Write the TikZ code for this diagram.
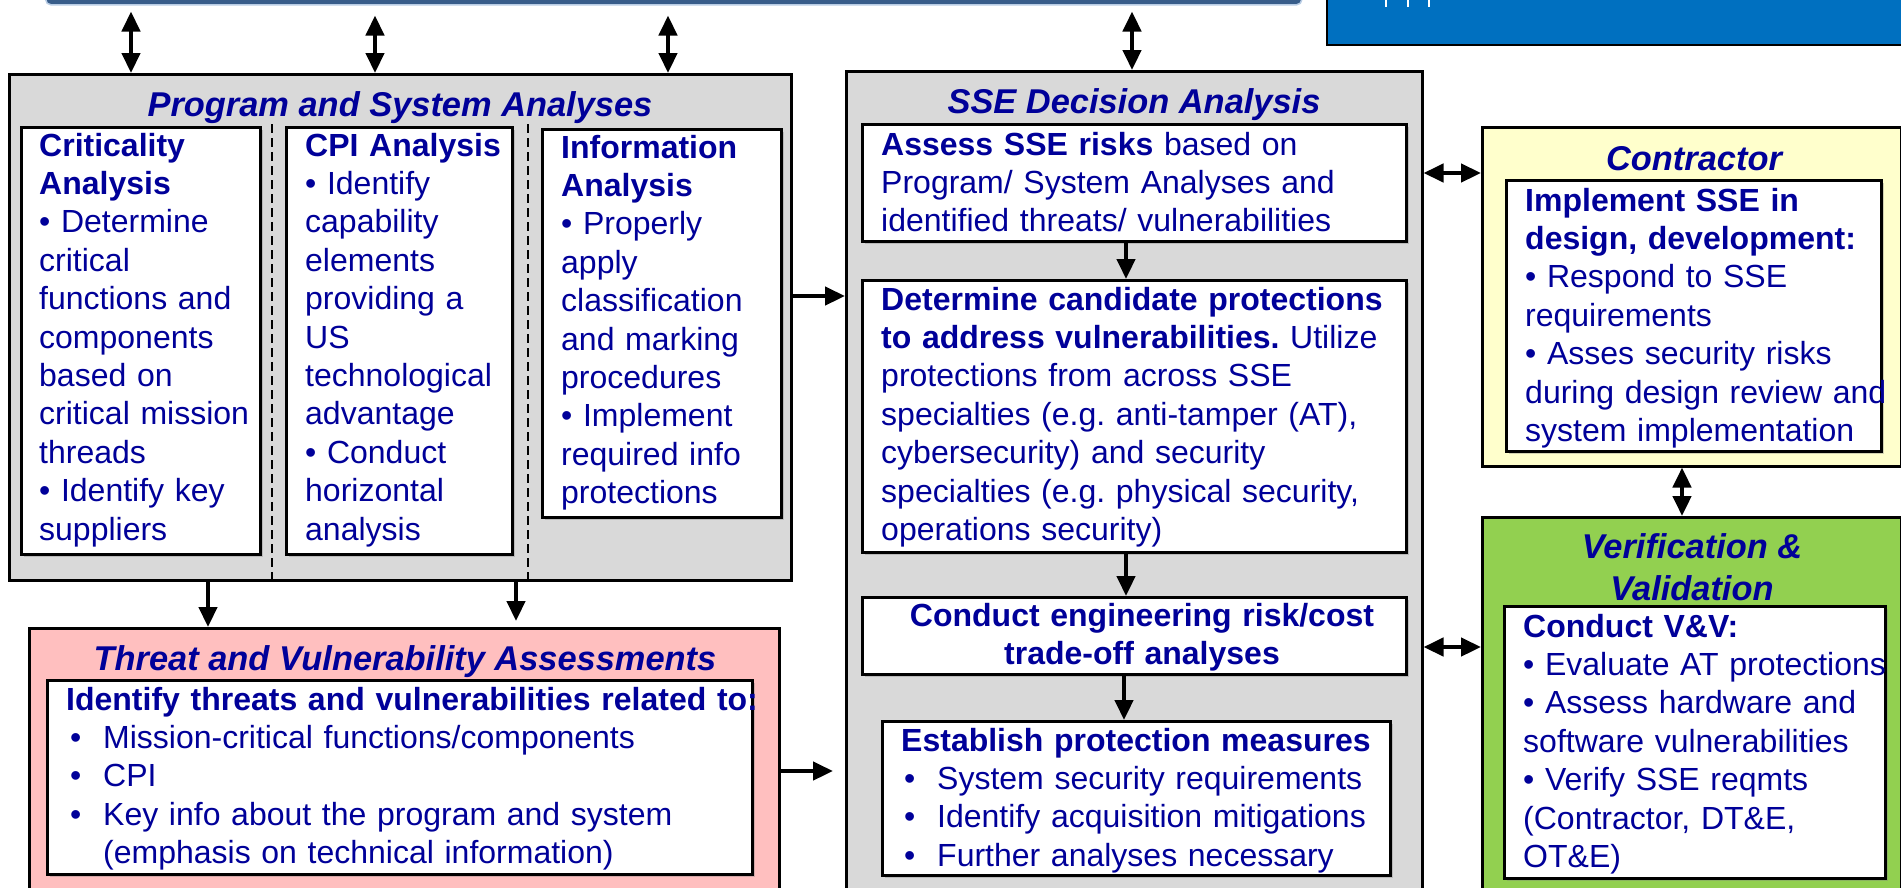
\documentclass[tikz,border=0pt]{standalone}
\usepackage{fontspec}
\setmainfont{Liberation Sans}
\usetikzlibrary{arrows.meta,shadows}

\definecolor{navy}{RGB}{0,0,153}
\definecolor{panelgray}{RGB}{217,217,217}
\definecolor{threatpink}{RGB}{255,191,191}
\definecolor{contryellow}{RGB}{255,255,204}
\definecolor{vvgreen}{RGB}{146,208,80}
\definecolor{barblue}{RGB}{56,93,138}
\definecolor{baredge}{RGB}{185,205,229}
\definecolor{capblue}{RGB}{0,112,192}
\newcommand{\bodyfont}{\fontsize{32}{38.4}\selectfont}
\newcommand{\headfont}{\fontsize{34.4}{42}\selectfont\bfseries\itshape}
\newcommand{\bul}{\makebox[33pt][l]{•}}
\frenchspacing

\begin{document}
\begin{tikzpicture}[x=1pt,y=-1pt,>={Triangle[length=20pt,width=18pt]},
	panel/.style={draw=black,line width=2.5pt,anchor=north west,inner sep=0pt},
	card/.style={panel,fill=white,drop shadow={shadow xshift=3pt,shadow yshift=-3pt,opacity=0.35}},
	boxtext/.style={anchor=north west,inner sep=0pt,align=left,text width=#1,font=\bodyfont,text=navy},
	boxtitle/.style={anchor=base,inner sep=0pt,font=\headfont,text=navy},
	flow/.style={->,line width=4.5pt},
	twoway/.style={<->,line width=4.5pt},
	divider/.style={dash pattern=on 9pt off 5pt,line width=2pt}]

		\useasboundingbox (0,0) rectangle (1901,887);
		\clip (0,0) rectangle (1901,887);

		\node[panel,fill=barblue,draw=baredge,line width=1.5pt,rounded corners=5pt,minimum width=1256pt,minimum height=40pt] (bar) at (45,-36) {};
		\node[panel,fill=capblue,line width=2pt,minimum width=580pt,minimum height=80pt] (cap) at (1326,-36) {};
		\foreach \x in {1386,1408,1429}
			\draw[white,line width=2.5pt] (\x,0) -- (\x,7);

		\node[panel,fill=panelgray,minimum width=782pt,minimum height=506pt] (prog) at (8,73) {};
		\node[boxtitle] (progtitle) at (400,116) {Program and System Analyses};
		\coordinate (s1) at (272,124);
		\coordinate (s2) at (528,124);
		\draw[divider] (s1) -- (prog.south -| s1);
		\draw[divider] (s2) -- (prog.south -| s2);
		\node[card,minimum width=239pt,minimum height=427pt] (crit) at (20,126) {};
		\node[card,minimum width=226pt,minimum height=427pt] (cpi) at (285,126) {};
		\node[card,minimum width=239pt,minimum height=388pt] (info) at (541,128) {};
		\node[boxtext=215pt] (crittext) at (39,129.1) {\strut{\bfseries Criticality\\Analysis}\\• Determine\\critical\\functions and\\components\\based on\\critical mission\\threads\\• Identify key\\suppliers};
		\node[boxtext=210pt] (cpitext) at (305,129.1) {\strut{\bfseries CPI Analysis}\\• Identify\\capability\\elements\\providing a\\US\\technological\\advantage\\• Conduct\\horizontal\\analysis};
		\node[boxtext=215pt] (infotext) at (561,131.1) {\strut{\bfseries Information\\Analysis}\\• Properly\\apply\\classification\\and marking\\procedures\\• Implement\\required info\\protections};

		\node[panel,fill=threatpink,minimum width=750pt,minimum height=300pt] (threat) at (28,627) {};
		\node[boxtitle] (threattitle) at (405,670) {Threat and Vulnerability Assessments};
		\node[card,minimum width=705pt,minimum height=194pt] (threatin) at (46,679) {};
		\node[boxtext=700pt] (threattext) at (66,683.1) {\strut{\bfseries Identify threats and vulnerabilities related to:}\\\hspace*{4pt}\bul Mission-critical functions/components\\\hspace*{4pt}\bul CPI\\\hspace*{4pt}\bul Key info about the program and system\\\hspace*{37pt}(emphasis on technical information)};

		\node[panel,fill=panelgray,minimum width=576pt,minimum height=840pt] (sse) at (845,70) {};
		\node[boxtitle] (ssetitle) at (1134,113) {SSE Decision Analysis};
		\node[card,minimum width=544pt,minimum height=117pt] (assess) at (861,123) {};
		\node[card,minimum width=544pt,minimum height=272pt] (determine) at (861,279) {};
		\node[card,minimum width=544pt,minimum height=77pt] (conduct) at (861,596) {};
		\node[card,minimum width=508pt,minimum height=154pt] (establish) at (881,720) {};
		\node[boxtext=520pt] (assesstext) at (881,128.1) {\strut\textbf{Assess SSE risks} based on\\Program/ System Analyses and\\identified threats/ vulnerabilities};
		\node[boxtext=520pt] (determinetext) at (881,283.1) {\strut\textbf{Determine candidate protections}\\\textbf{to address vulnerabilities.} Utilize\\protections from across SSE\\specialties (e.g. anti-tamper (AT),\\cybersecurity) and security\\specialties (e.g. physical security,\\operations security)};
		\node[boxtext=520pt,anchor=north,align=center] (conducttext) at (1142,599.1) {\strut\textbf{Conduct engineering risk/cost}\\\textbf{trade-off analyses}};
		\node[boxtext=500pt] (establishtext) at (901,724.1) {\strut\textbf{Establish protection measures}\\\hspace*{3pt}\bul System security requirements\\\hspace*{3pt}\bul Identify acquisition mitigations\\\hspace*{3pt}\bul Further analyses necessary};

		\node[panel,fill=contryellow,minimum width=419pt,minimum height=339pt] (contr) at (1481,126) {};
		\node[boxtitle] (contrtitle) at (1694,170) {Contractor};
		\node[card,minimum width=375pt,minimum height=271pt] (contrin) at (1505,179) {};
		\node[boxtext=380pt] (contrtext) at (1525,184.1) {\strut{\bfseries Implement SSE in\\design, development:}\\• Respond to SSE\\requirements\\• Asses security risks\\during design review and\\system implementation};

		\node[panel,fill=vvgreen,minimum width=419pt,minimum height=400pt] (vv) at (1481,516) {};
		\node[boxtitle,anchor=north,align=center] (vvtitle) at (1692,528.6) {\strut Verification \&\\Validation};
		\node[card,minimum width=381pt,minimum height=272pt] (vvin) at (1503,605) {};
		\node[boxtext=380pt] (vvtext) at (1523,610.1) {\strut{\bfseries Conduct V\&V:}\\• Evaluate AT protections\\• Assess hardware and\\software vulnerabilities\\• Verify SSE reqmts\\(Contractor, DT\&E,\\OT\&E)};

		\coordinate (t1) at (131,0);
		\coordinate (t2) at (375,0);
		\coordinate (t3) at (668,0);
		\coordinate (t4) at (1132,0);
		\draw[twoway,shorten <=6pt] (bar.south -| t1) -- (prog.north -| t1);
		\draw[twoway,shorten <=10pt] (bar.south -| t2) -- (prog.north -| t2);
		\draw[twoway,shorten <=10pt] (bar.south -| t3) -- (prog.north -| t3);
		\draw[twoway,shorten <=6pt] (bar.south -| t4) -- (sse.north -| t4);

		\coordinate (h1) at (0,296);
		\coordinate (h2) at (0,771);
		\coordinate (h3) at (0,173);
		\coordinate (h4) at (0,647);
		\coordinate (d1) at (208,0);
		\coordinate (d2) at (516,0);
		\coordinate (v1) at (1682,0);
		\coordinate (v2) at (1126,0);
		\coordinate (v3) at (1124,0);
		\draw[flow] (prog.east |- h1) -- (sse.west |- h1);
		\draw[flow] (prog.south -| d1) -- (threat.north -| d1);
		\draw[flow,shorten >=6pt] (prog.south -| d2) -- (threat.north -| d2);
		\draw[flow,shorten >=12pt] (threat.east |- h2) -- (sse.west |- h2);
		\draw[twoway] (sse.east |- h3) -- (contr.west |- h3);
		\draw[twoway] (sse.east |- h4) -- (vv.west |- h4);
		\draw[twoway] (contr.south -| v1) -- (vv.north -| v1);
		\draw[flow] (assess.south -| v2) -- (determine.north -| v2);
		\draw[flow] (determine.south -| v2) -- (conduct.north -| v2);
		\draw[flow] (conduct.south -| v3) -- (establish.north -| v3);

\end{tikzpicture}
\end{document}
